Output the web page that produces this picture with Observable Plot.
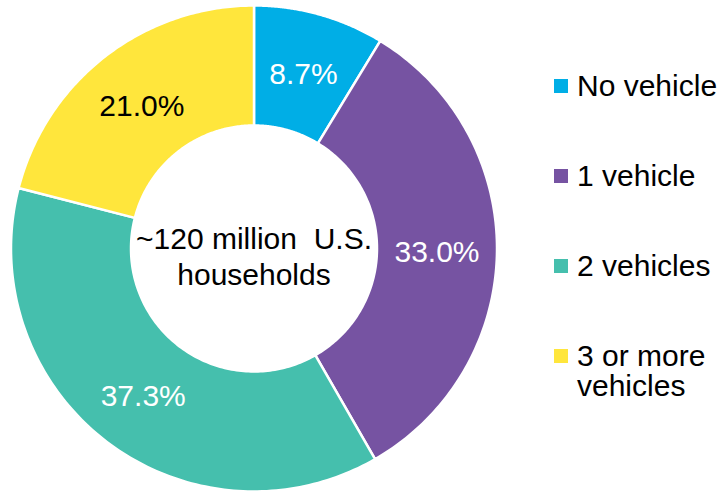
<!DOCTYPE html>
<html>
<head>
<meta charset="utf-8">
<script src="https://cdn.jsdelivr.net/npm/d3@7"></script>
<script src="https://cdn.jsdelivr.net/npm/@observablehq/plot@0.6"></script>
<style>
  html, body { margin: 0; padding: 0; background: #fff; }
  #wrap { display: flex; flex-direction: row; width: 723px; height: 491px; overflow: hidden;
          font-family: "Liberation Sans", Arial, sans-serif; }
  #legend { padding-top: 71px; width: 178px; box-sizing: border-box; }
  .item { display: flex; align-items: flex-start; height: 90px; }
  .sw { width: 14px; height: 14px; margin: 8px 9px 0 9px; flex: none; }
  .lab { font-size: 30px; line-height: 30px; color: #000; white-space: pre; }
</style>
</head>
<body>
<div id="wrap"><div id="chart"></div><div id="legend"></div></div>
<script>
// ---- data ----
const categories = ["No vehicle", "1 vehicle", "2 vehicles", "3 or more vehicles"];
const shares = [8.7, 33.0, 37.3, 21.0];
const valueLabels = ["8.7%", "33.0%", "37.3%", "21.0%"];
const colors = ["#00AEE6", "#7653A2", "#45BFAD", "#FFE63C"];
const labelColors = ["white", "white", "white", "black"];
const legendLabels = ["No vehicle", "1 vehicle", "2 vehicles", "3 or more\nvehicles"];
const centerLabel = "~120 million\u00a0 U.S.\nhouseholds";

// ---- geometry (data units = pixels) ----
const W = 545, H = 491;
const cx = 253.5, cy = 248;
const rOuter = 243, rInner = 123;
const total = d3.sum(shares);

const pts = [];
const labels = [];
let acc = 0;
categories.forEach((c, i) => {
  const a0 = acc / total * 2 * Math.PI;
  acc += shares[i];
  const a1 = acc / total * 2 * Math.PI;
  const n = 120;
  for (let k = 0; k <= n; k++) {
    const a = a0 + (a1 - a0) * k / n;
    pts.push({category: c, x: rOuter * Math.sin(a), y: rOuter * Math.cos(a)});
  }
  for (let k = n; k >= 0; k--) {
    const a = a0 + (a1 - a0) * k / n;
    pts.push({category: c, x: rInner * Math.sin(a), y: rInner * Math.cos(a)});
  }
  const am = (a0 + a1) / 2, rl = (rOuter + rInner) / 2;
  labels.push({label: valueLabels[i], color: labelColors[i], x: rl * Math.sin(am), y: rl * Math.cos(am)});
});

const chart = Plot.plot({
  width: W,
  height: H,
  margin: 0,
  x: {domain: [-cx, W - cx], axis: null},
  y: {domain: [-(H - cy), cy], axis: null},
  color: {domain: categories, range: colors},
  style: {fontFamily: "'Liberation Sans', Arial, sans-serif", background: "transparent", overflow: "visible"},
  marks: [
    Plot.line(pts, {x: "x", y: "y", z: "category", fill: "category", stroke: "white", strokeWidth: 2.5, curve: "linear-closed"}),
    Plot.text(labels, {filter: d => d.color === "white", x: "x", y: "y", text: "label", fill: "white", fontSize: 30, dy: 2}),
    Plot.text(labels, {filter: d => d.color === "black", x: "x", y: "y", text: "label", fill: "black", fontSize: 30, dy: 2}),
    Plot.text([centerLabel], {x: () => 0, y: () => 0, text: d => d, fill: "black", fontSize: 30, lineHeight: 1.18, dy: 7})
  ]
});
document.getElementById("chart").appendChild(chart);

// ---- legend ----
const legend = d3.select("#legend");
categories.forEach((c, i) => {
  const it = legend.append("div").attr("class", "item");
  it.append("div").attr("class", "sw").style("background", colors[i]);
  it.append("div").attr("class", "lab").text(legendLabels[i]);
});
</script>
</body>
</html>
